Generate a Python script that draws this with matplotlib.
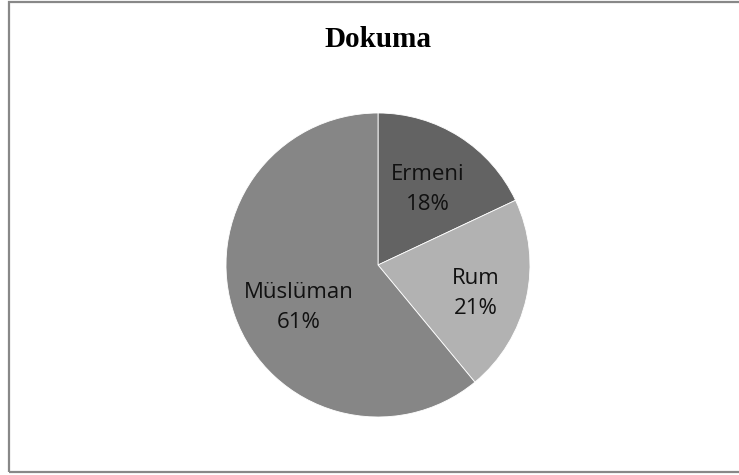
import matplotlib
matplotlib.use("Agg")
import matplotlib.pyplot as plt
import numpy as np
from matplotlib.patches import Rectangle

title = "Dokuma"
categories = ["Ermeni", "Rum", "Müslüman"]
values = [18, 21, 61]

colors = ["#636363", "#b2b2b2", "#868686"]
label_dist = [0.595, 0.67, 0.59]
label_ang_shift = [-1.1, -3.6, 8.5]

W, H = 739, 475
fig = plt.figure(figsize=(W / 100, H / 100), dpi=100)

cx, cy, r = 378, 265, 152
ax = fig.add_axes([(cx - r) / W, (H - cy - r) / H, 2 * r / W, 2 * r / H])
wedges, _ = ax.pie(values, colors=colors, startangle=90, counterclock=False,
                   radius=1, wedgeprops=dict(linewidth=0.6, edgecolor="white"))
ax.set_xlim(-1, 1)
ax.set_ylim(-1, 1)
ax.set_aspect("equal")
ax.axis("off")

total = sum(values)
for w, cat, v, d, s in zip(wedges, categories, values, label_dist, label_ang_shift):
    ang = np.deg2rad((w.theta1 + w.theta2) / 2 + s)
    x, y = d * np.cos(ang), d * np.sin(ang)
    ax.text(x, y, f"{cat}\n{round(100 * v / total)}%", ha="center", va="center",
            fontsize=16, family="Open Sans", color="#111111", linespacing=1.55)

fig.text(cx / W, 1 - 47 / H, title, ha="center", va="baseline", fontsize=21,
         fontweight="bold", family="Liberation Serif")

fig.patches.append(Rectangle((9 / W, (H - 472) / H), (W + 10) / W, (471 - 1) / H,
                             transform=fig.transFigure, fill=False,
                             edgecolor="#888888", linewidth=1.6))

fig.savefig("out.png", dpi=100)
